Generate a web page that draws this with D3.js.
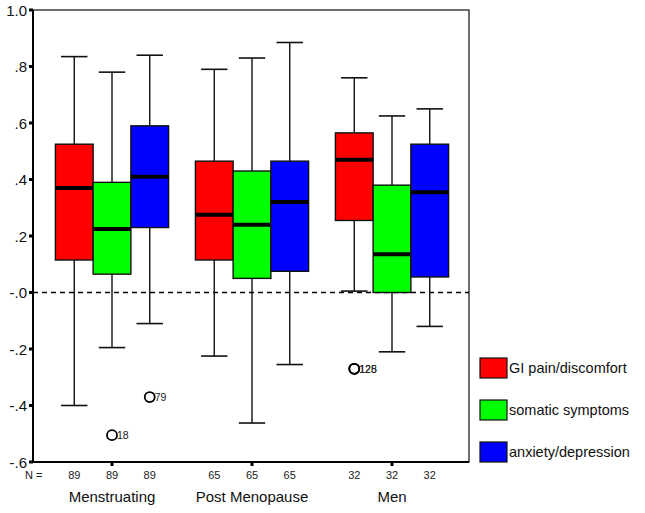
<!DOCTYPE html>
<html><head><meta charset="utf-8">
<script src="https://cdn.jsdelivr.net/npm/d3@7"></script>
<style>body{margin:0;background:#fff}svg{display:block;font-family:Arial,"Liberation Sans",sans-serif}</style>
</head><body><svg id="c" width="645" height="513"></svg>
<script>
const groups = ["Menstruating", "Post Menopause", "Men"];
const series = ["GI pain/discomfort", "somatic symptoms", "anxiety/depression"];
const colors = ["#ff0000", "#00ff00", "#0000ff"];
const nCounts = [[89, 89, 89], [65, 65, 65], [32, 32, 32]];
// [lowWhisker, q1, median, q3, highWhisker] per group, per series
const gipain = [[-0.40, 0.115, 0.37, 0.525, 0.835], [-0.225, 0.115, 0.275, 0.465, 0.79], [0.005, 0.255, 0.47, 0.565, 0.76]];
const somatic = [[-0.195, 0.065, 0.225, 0.39, 0.78], [-0.462, 0.05, 0.24, 0.43, 0.83], [-0.21, 0.0, 0.135, 0.38, 0.625]];
const anxiety = [[-0.11, 0.23, 0.41, 0.59, 0.84], [-0.255, 0.075, 0.32, 0.465, 0.885], [-0.12, 0.055, 0.355, 0.525, 0.65]];
// outliers: [groupIndex, seriesIndex, value, label]
const outliers = [[0, 1, -0.505, "18"], [0, 2, -0.37, "79"], [2, 0, -0.27, "125"], [2, 0, -0.27, "128"]];
const yTicks = [1.0, 0.8, 0.6, 0.4, 0.2, 0.0, -0.2, -0.4, -0.6];
const yTickLabels = ["1.0", ".8", ".6", ".4", ".2", "-.0", "-.2", "-.4", "-.6"];

const svg = d3.select("#c");
const L = 33, R = 469, T = 10, B = 462;
const y = d3.scaleLinear().domain([-0.6, 1.0]).range([B, T]);
const x0 = d3.scaleBand().domain(groups).range([42, 462]);
const x1 = d3.scaleBand().domain(series).range([0, x0.bandwidth()]).paddingOuter(0.355);
const data = [gipain, somatic, anxiety];

// frame
svg.append("rect").attr("x", L).attr("y", T).attr("width", R - L).attr("height", B - T)
  .attr("fill", "none").attr("stroke", "#222").attr("stroke-width", 1.3);
// zero dashed line
svg.append("line").attr("x1", L).attr("x2", R).attr("y1", y(0)).attr("y2", y(0))
  .attr("stroke", "#000").attr("stroke-width", 1.3).attr("stroke-dasharray", "5,4");

const bw = x1.bandwidth();
const capW = bw * 0.7;
groups.forEach((g, gi) => {
  series.forEach((s, si) => {
    const v = data[si][gi];
    const cx = x0(g) + x1(s) + bw / 2;
    const gg = svg.append("g");
    gg.append("line").attr("x1", cx).attr("x2", cx).attr("y1", y(v[4])).attr("y2", y(v[3]))
      .attr("stroke", "#111").attr("stroke-width", 1.4);
    gg.append("line").attr("x1", cx).attr("x2", cx).attr("y1", y(v[1])).attr("y2", y(v[0]))
      .attr("stroke", "#111").attr("stroke-width", 1.4);
    gg.append("line").attr("x1", cx - capW / 2).attr("x2", cx + capW / 2).attr("y1", y(v[4])).attr("y2", y(v[4]))
      .attr("stroke", "#111").attr("stroke-width", 1.6);
    gg.append("line").attr("x1", cx - capW / 2).attr("x2", cx + capW / 2).attr("y1", y(v[0])).attr("y2", y(v[0]))
      .attr("stroke", "#111").attr("stroke-width", 1.6);
    gg.append("rect").attr("x", x0(g) + x1(s)).attr("width", bw).attr("y", y(v[3])).attr("height", y(v[1]) - y(v[3]))
      .attr("fill", colors[si]).attr("stroke", "#111").attr("stroke-width", 1.4);
    gg.append("line").attr("x1", x0(g) + x1(s)).attr("x2", x0(g) + x1(s) + bw).attr("y1", y(v[2])).attr("y2", y(v[2]))
      .attr("stroke", "#000").attr("stroke-width", 4);
    // N counts
    svg.append("text").attr("x", cx).attr("y", 479).attr("text-anchor", "middle")
      .attr("font-size", 11).attr("fill", "#222").text(nCounts[gi][si]);
  });
});

outliers.forEach(([gi, si, v, lab]) => {
  const cx = x0(groups[gi]) + x1(series[si]) + bw / 2;
  svg.append("circle").attr("cx", cx).attr("cy", y(v)).attr("r", 5)
    .attr("fill", "none").attr("stroke", "#000").attr("stroke-width", 1.8);
  svg.append("text").attr("x", cx + 5).attr("y", y(v) + 4).attr("font-size", 10.5).attr("fill", "#222").text(lab);
});

// axes
svg.append("line").attr("x1", L).attr("x2", L).attr("y1", T).attr("y2", B).attr("stroke", "#000").attr("stroke-width", 2);
svg.append("line").attr("x1", L).attr("x2", R).attr("y1", B).attr("y2", B).attr("stroke", "#000").attr("stroke-width", 2);
yTicks.forEach((t, i) => {
  svg.append("rect").attr("x", L - 4).attr("y", y(t) - 1.5).attr("width", 4).attr("height", 3).attr("fill", "#000");
  svg.append("text").attr("x", 27).attr("y", y(t) + 5.5).attr("text-anchor", "end")
    .attr("font-size", 15).attr("fill", "#111").text(yTickLabels[i]);
});
groups.forEach(g => {
  const cx = x0(g) + x0.bandwidth() / 2;
  svg.append("rect").attr("x", cx - 1.5).attr("y", B).attr("width", 3).attr("height", 4).attr("fill", "#000");
  svg.append("text").attr("x", cx).attr("y", 502).attr("text-anchor", "middle")
    .attr("font-size", 15).attr("fill", "#111").text(g);
});
svg.append("text").attr("x", 25).attr("y", 479).attr("font-size", 11).attr("fill", "#222").text("N =");

// legend
series.forEach((s, i) => {
  const ly = 358 + i * 42;
  svg.append("rect").attr("x", 480).attr("y", ly).attr("width", 27).attr("height", 20)
    .attr("fill", colors[i]).attr("stroke", "#111").attr("stroke-width", 1.2);
  svg.append("text").attr("x", 509).attr("y", ly + 15).attr("font-size", 14.5).attr("fill", "#111").text(s);
});
</script></body></html>
